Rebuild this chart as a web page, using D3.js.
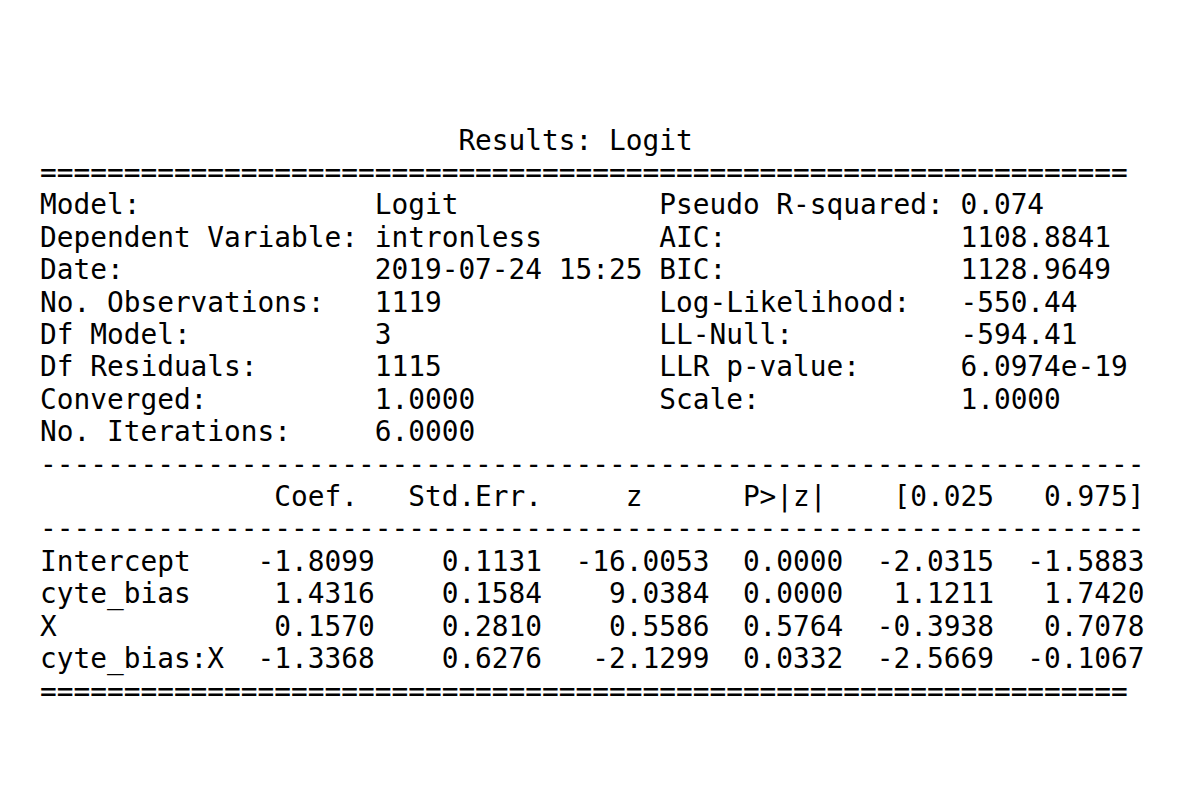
<!DOCTYPE html>
<html>
<head>
<meta charset="utf-8">
<script src="https://cdn.jsdelivr.net/npm/d3@7"></script>
<style>body{margin:0;background:#fff}</style>
</head>
<body>
<svg id="vis"></svg>
<script>
const title = "Results: Logit";
const infoLeftLabels = ["Model:", "Dependent Variable:", "Date:", "No. Observations:", "Df Model:", "Df Residuals:", "Converged:", "No. Iterations:"];
const infoLeftValues = ["Logit", "intronless", "2019-07-24 15:25", "1119", "3", "1115", "1.0000", "6.0000"];
const infoRightLabels = ["Pseudo R-squared:", "AIC:", "BIC:", "Log-Likelihood:", "LL-Null:", "LLR p-value:", "Scale:", ""];
const infoRightValues = ["0.074", "1108.8841", "1128.9649", "-550.44", "-594.41", "6.0974e-19", "1.0000", ""];
const columns = ["Coef.", "Std.Err.", "z", "P>|z|", "[0.025", "0.975]"];
const terms = ["Intercept", "cyte_bias", "X", "cyte_bias:X"];
const coef = ["-1.8099", "1.4316", "0.1570", "-1.3368"];
const stdErr = ["0.1131", "0.1584", "0.2810", "0.6276"];
const zVal = ["-16.0053", "9.0384", "0.5586", "-2.1299"];
const pVal = ["0.0000", "0.0000", "0.5764", "0.0332"];
const ciLow = ["-2.0315", "1.1211", "-0.3938", "-2.5669"];
const ciHigh = ["-1.5883", "1.7420", "0.7078", "-0.1067"];

const width = 1200, height = 800;
const lines = [];
lines.push(" ".repeat(25) + title);
lines.push("=".repeat(65));
infoLeftLabels.forEach((l, i) => {
  let s = l.padEnd(20) + infoLeftValues[i].padEnd(17);
  if (infoRightLabels[i]) s += infoRightLabels[i].padEnd(18) + infoRightValues[i];
  lines.push(s.trimEnd());
});
lines.push("-".repeat(66));
lines.push(" ".repeat(14) + columns[0] + "   " + columns[1] + "     " + columns[2] + "      " + columns[3] + "    " + columns[4] + "   " + columns[5]);
lines.push("-".repeat(66));
terms.forEach((t, i) => {
  lines.push(t.padEnd(13) + coef[i].padStart(7) + stdErr[i].padStart(10) + zVal[i].padStart(10) +
    pVal[i].padStart(8) + ciLow[i].padStart(9) + ciHigh[i].padStart(9));
});
lines.push("=".repeat(65));

const y = d3.scaleLinear().domain([0, lines.length - 1]).range([140, 691]);

const svg = d3.select("#vis").attr("width", width).attr("height", height);
svg.selectAll("text").data(lines).enter().append("text")
  .attr("x", 40)
  .attr("y", (d, i) => y(i))
  .attr("dominant-baseline", "central")
  .attr("xml:space", "preserve")
  .style("white-space", "pre")
  .attr("font-family", "DejaVu Sans Mono")
  .attr("font-size", 27.8)
  .attr("fill", "#000")
  .text(d => d);
</script>
</body>
</html>
